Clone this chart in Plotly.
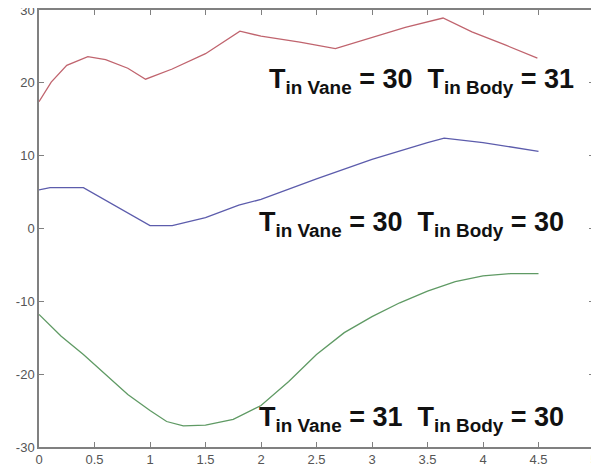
import plotly.graph_objects as go

red_x = [0, 0.11, 0.25, 0.44, 0.6, 0.8, 0.96, 1.2, 1.5, 1.81, 2.0, 2.35, 2.67, 3.0, 3.3, 3.64, 3.9, 4.2, 4.49]
red_y = [17.4, 20.1, 22.4, 23.6, 23.2, 22.0, 20.5, 21.9, 24.0, 27.1, 26.4, 25.6, 24.7, 26.2, 27.6, 28.9, 27.0, 25.2, 23.4]

blue_x = [0, 0.1, 0.4, 0.74, 1.0, 1.2, 1.5, 1.8, 2.0, 2.5, 3.0, 3.5, 3.65, 4.0, 4.5]
blue_y = [5.3, 5.6, 5.6, 2.7, 0.4, 0.4, 1.5, 3.2, 4.0, 6.8, 9.5, 11.8, 12.4, 11.8, 10.6]

green_x = [0, 0.2, 0.4, 0.6, 0.8, 1.0, 1.15, 1.3, 1.5, 1.75, 2.0, 2.25, 2.5, 2.75, 3.0, 3.25, 3.5, 3.75, 4.0, 4.25, 4.5]
green_y = [-11.8, -14.8, -17.3, -20.0, -22.8, -25.0, -26.5, -27.1, -27.0, -26.2, -24.3, -21.0, -17.3, -14.3, -12.1, -10.2, -8.6, -7.3, -6.5, -6.2, -6.2]

x_ticks = [0, 0.5, 1, 1.5, 2, 2.5, 3, 3.5, 4, 4.5, 5]
x_tick_labels = ["0", "0.5", "1", "1.5", "2", "2.5", "3", "3.5", "4", "4.5", "5"]
y_ticks = [-30, -20, -10, 0, 10, 20, 30]
y_tick_labels = ["-30", "-20", "-10", "0", "10", "20", "30"]

labels = [
    ("T<sub>in Vane</sub> = 30  T<sub>in Body</sub> = 31", 2.05, 20.2),
    ("T<sub>in Vane</sub> = 30  T<sub>in Body</sub> = 30", 1.96, 0.6),
    ("T<sub>in Vane</sub> = 31  T<sub>in Body</sub> = 30", 1.96, -26.1),
]

fig = go.Figure()
fig.add_trace(go.Scatter(x=red_x, y=red_y, mode="lines", line=dict(color="#c0646e", width=1.3), showlegend=False))
fig.add_trace(go.Scatter(x=blue_x, y=blue_y, mode="lines", line=dict(color="#5c5cac", width=1.3), showlegend=False))
fig.add_trace(go.Scatter(x=green_x, y=green_y, mode="lines", line=dict(color="#5f9a64", width=1.3), showlegend=False))

for text, ax, ay in labels:
    fig.add_annotation(x=ax, y=ay, xref="x", yref="y", text="<b>" + text + "</b>",
                       showarrow=False, xanchor="left", yanchor="middle",
                       font=dict(family="Liberation Sans, Arial", size=27, color="#111111"))

axis_common = dict(showgrid=False, zeroline=False, showline=True, linecolor="#808080", linewidth=1.5,
                   ticks="inside", ticklen=5, tickcolor="#808080", mirror="ticks", automargin=False,
                   ticklabeloverflow="allow",
                   tickfont=dict(family="Liberation Sans, Arial", size=13, color="#555555"))

fig.update_xaxes(range=[0, 5], tickvals=x_ticks, ticktext=x_tick_labels, **axis_common)
fig.update_yaxes(range=[-30, 30], tickvals=y_ticks, ticktext=y_tick_labels, **axis_common)

fig.update_layout(width=591, height=460, margin=dict(l=31, r=5, t=2, b=21),
                  plot_bgcolor="white", paper_bgcolor="white")

fig.write_html("out.html")
